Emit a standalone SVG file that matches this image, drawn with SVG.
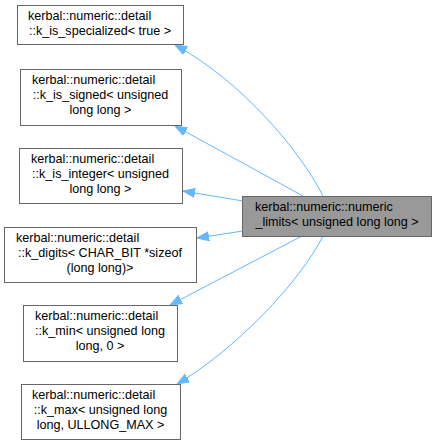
<svg xmlns="http://www.w3.org/2000/svg" width="437" height="445" viewBox="0 0 437 445">
<style>
.box{fill:#ffffff;stroke:#666666;stroke-width:1}
.main{fill:#999999;stroke:#666666;stroke-width:1}
text{font-family:"Liberation Sans",Arial,sans-serif;font-size:12.6px;fill:#000000}
.c{text-anchor:middle}
.edge{fill:none;stroke:#63b8ff;stroke-width:1;marker-end:url(#arr)}
</style>
<defs>
<marker id="arr" markerUnits="userSpaceOnUse" markerWidth="14" markerHeight="12" refX="12" refY="5" orient="auto" viewBox="0 0 14 12">
<path d="M0,0.5 L12,5 L0,9.5 z" fill="#63b8ff" stroke="#63b8ff" stroke-width="1"/>
</marker>
</defs>
<g id="connectors">
<path class="edge" d="M323,196 C300,150 240,80 175,45"/>
<path class="edge" d="M303,196 L175,126"/>
<path class="edge" d="M243,201 L183,191"/>
<path class="edge" d="M243,231 L197,238"/>
<path class="edge" d="M302,236 L170,305"/>
<path class="edge" d="M323,236 C300,282 235,350 177,384"/>
</g>
<g id="node-main">
<rect class="main" x="242.5" y="196.5" width="189" height="40"/>
<text x="255" y="210.5">kerbal::numeric::numeric</text>
<text class="c" x="337" y="225.5">_limits&lt; unsigned long long &gt;</text>
</g>
<g id="node-specialized">
<rect class="box" x="17.5" y="5.5" width="166" height="39"/>
<text x="28" y="20">kerbal::numeric::detail</text>
<text class="c" x="100" y="35">::k_is_specialized&lt; true &gt;</text>
</g>
<g id="node-signed">
<rect class="box" x="20.5" y="69.5" width="161" height="56"/>
<text x="32" y="83.5">kerbal::numeric::detail</text>
<text class="c" x="100.5" y="98.5">::k_is_signed&lt; unsigned</text>
<text class="c" x="100.5" y="113.5">long long &gt;</text>
</g>
<g id="node-integer">
<rect class="box" x="19.5" y="148.5" width="163" height="55"/>
<text x="31" y="162.5">kerbal::numeric::detail</text>
<text class="c" x="100.5" y="177.5">::k_is_integer&lt; unsigned</text>
<text class="c" x="100.5" y="192.5">long long &gt;</text>
</g>
<g id="node-digits">
<rect class="box" x="4.5" y="227.5" width="192" height="55"/>
<text x="16" y="241.5">kerbal::numeric::detail</text>
<text class="c" x="100" y="256.5">::k_digits&lt; CHAR_BIT *sizeof</text>
<text class="c" x="100" y="271.5">(long long)&gt;</text>
</g>
<g id="node-min">
<rect class="box" x="23.5" y="305.5" width="154" height="56"/>
<text x="35" y="319.5">kerbal::numeric::detail</text>
<text class="c" x="100" y="334.5">::k_min&lt; unsigned long</text>
<text class="c" x="100" y="349.5">long, 0 &gt;</text>
</g>
<g id="node-max">
<rect class="box" x="21.5" y="384.5" width="159" height="55"/>
<text x="32" y="398.5">kerbal::numeric::detail</text>
<text class="c" x="100.5" y="413.5">::k_max&lt; unsigned long</text>
<text class="c" x="100.5" y="428.5">long, ULLONG_MAX &gt;</text>
</g>
</svg>
